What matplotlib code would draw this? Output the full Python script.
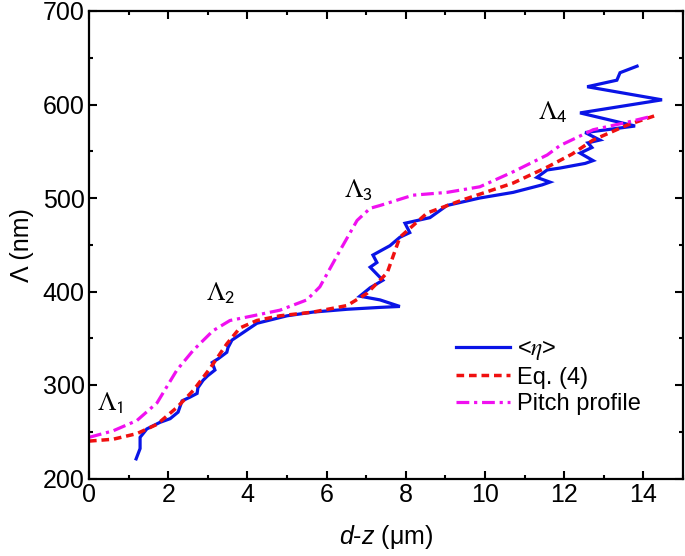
import matplotlib
matplotlib.use("Agg")
import matplotlib.pyplot as plt
from matplotlib.ticker import MultipleLocator
from matplotlib.font_manager import FontProperties

# <eta> (blue solid)
eta_x = [1.19, 1.29, 1.29, 1.46, 1.79, 2.05, 2.25, 2.35, 2.55, 2.73, 2.75, 2.88, 3.00, 3.18,
         3.11, 3.26, 3.48, 3.51, 3.61, 3.89, 4.24, 5.00, 5.66, 6.52, 7.35, 7.85, 7.35, 6.84,
         7.10, 7.42, 7.10, 7.27, 7.17, 7.60, 7.85, 8.10, 7.98, 8.61, 9.04, 9.87, 10.71, 11.44,
         11.64, 11.31, 11.57, 11.89, 12.53, 12.73, 12.40, 12.70, 12.60, 12.90, 12.53, 13.79,
         12.40, 14.47, 12.58, 13.33, 13.41, 13.84]
eta_y = [221, 232, 244, 253, 260, 264, 271, 283, 287, 291, 297, 305, 310, 316,
         324, 328, 335, 340, 348, 356, 366, 374, 378, 381, 383, 384, 391, 395,
         404, 412, 426, 431, 439, 449, 458, 463, 473, 479, 492, 500, 506, 514,
         517, 522, 530, 532, 537, 540, 548, 554, 559, 562, 570, 577,
         591, 605, 619, 626, 634, 641]

# Eq. (4) (red dashed)
eq_x = [0.0, 0.61, 1.21, 1.72, 2.22, 2.63, 3.06, 3.48, 3.81, 4.24, 4.82, 5.66, 6.52, 7.02,
        7.53, 7.85, 8.54, 9.44, 10.71, 11.57, 12.20, 12.73, 13.59, 14.29]
eq_y = [240, 242, 248, 258, 276, 294, 318, 344, 361, 369, 374, 378, 385, 398,
        420, 458, 484, 498, 516, 533, 547, 562, 578, 588]

# Pitch profile (magenta dash-dot)
pp_x = [0.0, 0.61, 1.21, 1.72, 2.22, 2.63, 3.13, 3.56, 4.14, 4.82, 5.50, 5.83, 6.34, 6.77,
        7.10, 7.35, 8.18, 9.04, 9.87, 10.71, 11.57, 11.89, 12.73, 13.59, 14.17]
pp_y = [244, 251, 262, 281, 316, 337, 358, 369, 374, 380, 391, 405, 444, 476,
        489, 492, 503, 506, 512, 528, 546, 556, 573, 581, 587]

labels = ["<$\\eta$>", "Eq. (4)", "Pitch profile"]
lam_labels = ["$\\Lambda_\\mathsf{1}$", "$\\Lambda_\\mathsf{2}$",
              "$\\Lambda_\\mathsf{3}$", "$\\Lambda_\\mathsf{4}$"]
lam_x = [0.2, 2.95, 6.45, 11.34]
lam_y = [281, 398, 508, 592]

plt.rcParams['font.family'] = ['Liberation Sans', 'DejaVu Sans']
plt.rcParams['mathtext.fontset'] = 'custom'
plt.rcParams['mathtext.rm'] = 'Liberation Sans'
plt.rcParams['mathtext.it'] = 'Liberation Sans:italic'
plt.rcParams['mathtext.bf'] = 'Liberation Sans:bold'

fig = plt.figure(figsize=(6.85, 5.56), dpi=100)
ax = fig.add_axes([89/685, 1-478.5/556, 594/685, 467.5/556])

ax.plot(eta_x, eta_y, color='#0a14e6', lw=2.3, label=labels[0], solid_joinstyle='miter')
ax.plot(eq_x, eq_y, color='#f01010', lw=2.5, ls=(0, (2.2, 1.4)), label=labels[1])
ax.plot(pp_x, pp_y, color='#f010f0', lw=2.3, ls=(0, (4, 1.5, 1, 1.5)), label=labels[2])

for t, x, y in zip(lam_labels, lam_x, lam_y):
    ax.text(x, y, t, fontsize=19, ha='left', va='center', math_fontfamily='stix')

ax.set_xlim(0, 15)
ax.set_ylim(200, 700)
ax.xaxis.set_major_locator(MultipleLocator(2))
ax.xaxis.set_minor_locator(MultipleLocator(1))
ax.yaxis.set_major_locator(MultipleLocator(100))
ax.yaxis.set_minor_locator(MultipleLocator(50))
ax.tick_params(which='both', direction='in', top=True, right=True, width=1.5)
ax.tick_params(which='major', length=5.5, labelsize=18, pad=3)
ax.tick_params(which='minor', length=3)
ax.set_xticks([0, 2, 4, 6, 8, 10, 12, 14])
for s in ax.spines.values():
    s.set_linewidth(1.6)

ax.set_xlabel("$d$-$z$ (\u03bcm)", fontsize=18, labelpad=12)
ax.set_ylabel("\u039b (nm)", fontsize=18, labelpad=6)

prop = FontProperties(family=['Liberation Sans', 'DejaVu Sans'], size=17, math_fontfamily='stix')
leg = ax.legend(loc='upper left', bbox_to_anchor=((456-89)/594, (478.5-338)/467.5),
                frameon=False, prop=prop, handlelength=2.3, handletextpad=0.3,
                labelspacing=0.2, borderpad=0, borderaxespad=0)

fig.savefig("out.png", dpi=100)
